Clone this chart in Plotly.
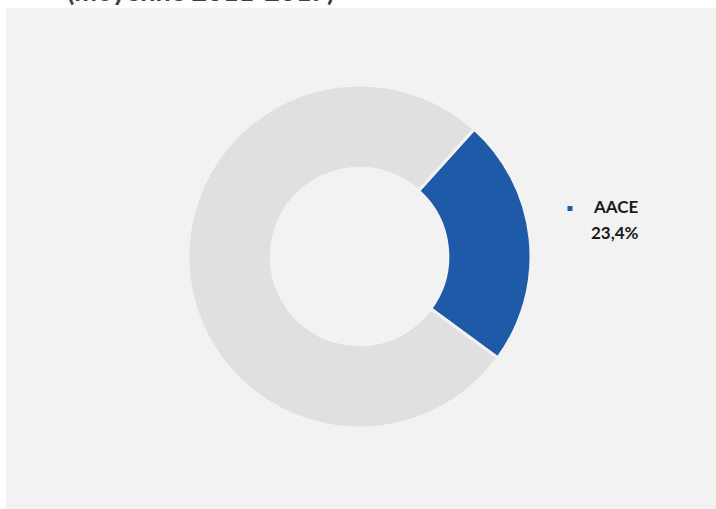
import plotly.graph_objects as go

labels = ["AACE", "Autres"]
values = [23.4, 76.6]
colors = ["#1f5aa8", "#e0e0e0"]
title_text = "(moyenne 2011-2017)"

W, H = 716, 509

fig = go.Figure()
fig.add_trace(go.Pie(
    labels=labels,
    values=values,
    hole=0.515,
    sort=False,
    direction="clockwise",
    rotation=42,
    marker=dict(colors=colors, line=dict(color="#f2f2f2", width=3)),
    textinfo="none",
    hoverinfo="label+percent",
    showlegend=False,
    domain=dict(x=[188 / W, 531 / W], y=[(H - 428) / H, (H - 85) / H]),
))

# panel background
fig.add_shape(type="rect", xref="paper", yref="paper",
              x0=6 / W, x1=1, y0=0, y1=1 - 8 / H,
              fillcolor="#f2f2f2", line=dict(width=0), layer="below")

# legend marker square
fig.add_shape(type="rect", xref="paper", yref="paper",
              x0=567.5 / W, x1=572.5 / W, y0=1 - 211 / H, y1=1 - 206 / H,
              fillcolor=colors[0], line=dict(width=0))

label_font = dict(family="Lato, Liberation Sans, sans-serif", size=17, color="#1a1a1a", weight="bold")
fig.add_annotation(xref="paper", yref="paper", x=615 / W, y=1 - 207 / H,
                   text=labels[0], showarrow=False, font=label_font,
                   xanchor="center", yanchor="middle")
fig.add_annotation(xref="paper", yref="paper", x=615 / W, y=1 - 232 / H,
                   text=f"{values[0]:.1f}%".replace(".", ","), showarrow=False,
                   font=label_font, xanchor="center", yanchor="middle")

# clipped title at the top
fig.add_annotation(xref="paper", yref="paper", x=200 / W, y=1 + 10 / H,
                   text=f"<b>{title_text}</b>", showarrow=False,
                   font=dict(family="Lato, Liberation Sans, sans-serif", size=27, color="#404040"),
                   xanchor="center", yanchor="middle")

fig.update_layout(width=W, height=H, margin=dict(l=0, r=0, t=0, b=0),
                  paper_bgcolor="white", plot_bgcolor="white")

fig.write_html("out.html", config={"displayModeBar": False},
               post_script="document.body.style.margin='0';")
